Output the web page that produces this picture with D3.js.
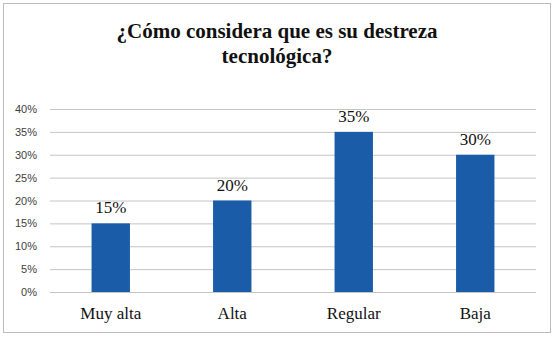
<!DOCTYPE html>
<html>
<head>
<meta charset="utf-8">
<script src="https://cdn.jsdelivr.net/npm/d3@7"></script>
<style>
  html, body { margin: 0; padding: 0; background: #fff; }
  .serif { font-family: "Liberation Serif", "Times New Roman", "DejaVu Serif", serif; }
  .sans { font-family: "Liberation Sans", Arial, sans-serif; }
</style>
</head>
<body>
<div id="mainDiv"></div>
<script>
const categories = ["Muy alta", "Alta", "Regular", "Baja"];
const percentages = [15, 20, 35, 30];
const yTicks = [0, 5, 10, 15, 20, 25, 30, 35, 40];
const titleLines = ["¿Cómo considera que es su destreza", "tecnológica?"];

const chartSize = {
  width: 556,
  height: 337,
  margin: { top: 109, right: 20, bottom: 45, left: 50 },
};

const barColor = "#1a5ca8";
const gridColor = "#c4c4c4";

const svg = d3.select("#mainDiv")
  .append("svg")
  .attr("width", chartSize.width)
  .attr("height", chartSize.height);

// outer frame
svg.append("rect")
  .attr("x", 3.5)
  .attr("y", 3.5)
  .attr("width", 547)
  .attr("height", 329)
  .attr("fill", "#fff")
  .attr("stroke", "#bdbdbd");

// title
svg.append("g")
  .selectAll("text")
  .data(titleLines)
  .join("text")
  .attr("class", "serif")
  .attr("x", 277)
  .attr("y", (d, i) => 38 + i * 25)
  .attr("text-anchor", "middle")
  .style("font-weight", "bold")
  .style("font-size", "21px")
  .attr("fill", "#111")
  .text(d => d);

let x = d3.scaleBand()
  .domain(categories)
  .range([chartSize.margin.left, chartSize.width - chartSize.margin.right])
  .paddingInner(0.684)
  .paddingOuter(0.342);

let y = d3.scaleLinear()
  .domain([0, 40])
  .range([chartSize.height - chartSize.margin.bottom, chartSize.margin.top]);

// grid lines + y axis labels
let yAxis = g => g
  .attr("transform", `translate(${chartSize.margin.left},0)`)
  .call(d3.axisLeft(y)
    .tickValues(yTicks)
    .tickFormat(d => d + "%")
    .tickSize(-(chartSize.width - chartSize.margin.left - chartSize.margin.right))
    .tickPadding(13))
  .call(g => g.attr("font-family", null).attr("font-size", null))
  .call(g => g.select(".domain").remove())
  .call(g => g.selectAll(".tick line").attr("stroke", gridColor))
  .call(g => g.selectAll(".tick text")
    .attr("class", "sans")
    .style("font-size", "11px")
    .attr("fill", "#404040"));

svg.append("g").call(yAxis);

// bars
svg.append("g")
  .selectAll("rect")
  .data(percentages)
  .join("rect")
  .attr("x", (d, i) => x(categories[i]))
  .attr("y", d => y(d))
  .attr("width", x.bandwidth())
  .attr("height", d => y(0) - y(d))
  .attr("fill", barColor);

// data labels
svg.append("g")
  .selectAll("text")
  .data(percentages)
  .join("text")
  .attr("class", "serif")
  .attr("x", (d, i) => x(categories[i]) + x.bandwidth() / 2)
  .attr("y", d => y(d) - 10)
  .attr("text-anchor", "middle")
  .style("font-size", "17px")
  .attr("fill", "#111")
  .text(d => d + "%");

// x axis labels
let xAxis = g => g
  .attr("transform", `translate(0,${chartSize.height - chartSize.margin.bottom})`)
  .call(d3.axisBottom(x).tickSize(0).tickPadding(15))
  .call(g => g.attr("font-family", null).attr("font-size", null))
  .call(g => g.select(".domain").remove())
  .call(g => g.selectAll(".tick text")
    .attr("class", "serif")
    .style("font-size", "17px")
    .attr("fill", "#111"));

svg.append("g").call(xAxis);
</script>
</body>
</html>
